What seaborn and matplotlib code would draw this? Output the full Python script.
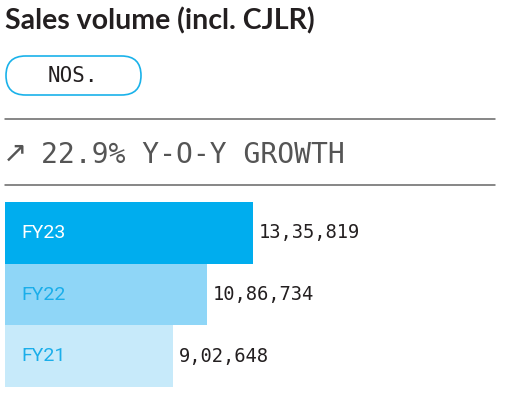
import matplotlib
matplotlib.use("Agg")
import matplotlib.pyplot as plt
from matplotlib.patches import FancyBboxPatch
from matplotlib.lines import Line2D
import seaborn as sns
import pandas as pd

# data
years = ["FY23", "FY22", "FY21"]
volumes = [1335819, 1086734, 902648]
value_labels = ["13,35,819", "10,86,734", "9,02,648"]
bar_colors = ["#00adee", "#8fd6f7", "#c7eafa"]
year_text_colors = ["#ffffff", "#1aaeea", "#1aaeea"]

title = "Sales volume (incl. CJLR)"
unit = "NOS."
growth = "22.9% Y-O-Y GROWTH"

W, H = 505, 393


def fx(x):
    return x / W


def fy(y):
    return 1 - y / H


sns.set_style("white")
fig = plt.figure(figsize=(W / 100, H / 100), dpi=100)

# header text
fig.text(fx(5), fy(21), title, fontsize=20.5, fontweight="bold", family="Lato",
         color="#231f20", va="center", ha="left")

# pill around the unit
pill = FancyBboxPatch((0.06, (H - 95) / 100), 1.35, 0.39,
                      boxstyle="round,pad=0,rounding_size=0.195",
                      transform=fig.dpi_scale_trans, facecolor="white",
                      edgecolor="#1ab2ea", linewidth=1.2)
fig.patches.append(pill)
fig.text(fx(73), fy(76), unit, fontsize=15, family="DejaVu Sans Mono",
         color="#231f20", va="center", ha="center")

# separator lines
for yy in (119, 185):
    fig.add_artist(Line2D([fx(5), fx(495)], [fy(yy), fy(yy)],
                          color="#666666", linewidth=1.1))

fig.text(fx(3), fy(154), "\u2197", fontsize=21, family="DejaVu Sans",
         color="#555555", va="center", ha="left")
fig.text(fx(41), fy(155), growth, fontsize=20.2, family="DejaVu Sans Mono",
         color="#555555", va="center", ha="left")

# bars
df = pd.DataFrame({"year": years, "volume": volumes})
ax = fig.add_axes([fx(5), fy(387), (W - 5) / W, 185 / H])
sns.barplot(data=df, x="volume", y="year", hue="year", palette=bar_colors,
            orient="h", width=1.0, saturation=1, legend=False, linewidth=0,
            ax=ax)
ax.set_xlim(0, volumes[0] * 500 / 248)
ax.set_ylim(2.5, -0.5)
ax.axis("off")

for i, (v, lab) in enumerate(zip(volumes, value_labels)):
    ax.text(v + volumes[0] * 6 / 248, i, lab, fontsize=13.5,
            family="DejaVu Sans Mono", color="#231f20", va="center", ha="left")
    ax.text(volumes[0] * 16 / 248, i, years[i], fontsize=14, family="Roboto",
            color=year_text_colors[i], va="center", ha="left")

fig.savefig("out.png", dpi=100)
